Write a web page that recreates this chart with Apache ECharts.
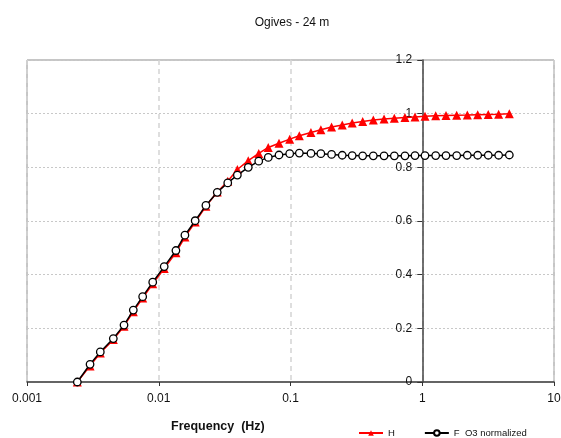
<!DOCTYPE html>
<html>
<head>
<meta charset="utf-8">
<script src="https://cdn.jsdelivr.net/npm/echarts@6/dist/echarts.min.js"></script>
<style>
html, body { margin: 0; padding: 0; background: #fff; }
#chart { width: 561px; height: 438px; }
</style>
</head>
<body>
<div id="chart"></div>
<script>
// Frequency bins (Hz), log-spaced
var frequency = [
  0.00241, 0.00301, 0.00360, 0.00452, 0.00545, 0.00641, 0.00755, 0.00900,
  0.0110, 0.0135, 0.0158, 0.0189, 0.0228, 0.0278, 0.0334, 0.0395,
  0.0478, 0.0574, 0.0678, 0.0818, 0.0986, 0.1167, 0.143, 0.170,
  0.205, 0.247, 0.294, 0.353, 0.425, 0.513, 0.614, 0.739,
  0.881, 1.049, 1.265, 1.514, 1.826, 2.198, 2.636, 3.17,
  3.80, 4.58
];

// Normalized ogive of sensible heat flux H
var ogiveH = [
  0, 0.06, 0.108, 0.158, 0.208, 0.262, 0.313, 0.366,
  0.423, 0.482, 0.54, 0.596, 0.655, 0.708, 0.748, 0.792,
  0.825, 0.852, 0.874, 0.89, 0.905, 0.918, 0.93, 0.94,
  0.95, 0.958, 0.965, 0.971, 0.976, 0.98, 0.983, 0.986,
  0.988, 0.99, 0.992, 0.993, 0.994, 0.995, 0.996, 0.997,
  0.998, 1.0
];

// Normalized ogive of ozone flux
var ogiveO3 = [
  0, 0.066, 0.112, 0.162, 0.212, 0.268, 0.318, 0.372,
  0.43, 0.49, 0.547, 0.601, 0.658, 0.707, 0.742, 0.771,
  0.80, 0.823, 0.837, 0.846, 0.851, 0.853, 0.852, 0.851,
  0.848, 0.845, 0.844, 0.843, 0.843, 0.843, 0.843, 0.843,
  0.844, 0.844, 0.844, 0.844, 0.844, 0.845, 0.845, 0.845,
  0.845, 0.846
];

var xTickLabels = ['0.001', '0.01', '0.1', '1', '10'];
var yTickLabels = ['0', '0.2', '0.4', '0.6', '0.8', '1', '1.2'];

function pairs(xs, ys) {
  return xs.map(function (x, i) { return [x, ys[i]]; });
}

var chart = echarts.init(document.getElementById('chart'), null, { renderer: 'canvas' });

var plotLeft = 27, plotRight = 554;
var decadePx = (plotRight - plotLeft) / 4;
// y axis crosses the x axis at 1 Hz (3 decades from 0.001)
var yAxisOffset = -3 * decadePx;
var font = 'Liberation Sans, Arial, sans-serif';

chart.setOption({
  backgroundColor: '#ffffff',
  animation: false,
  title: {
    text: 'Ogives - 24 m',
    left: 287,
    textAlign: 'center',
    top: 12,
    textStyle: { fontFamily: font, fontSize: 12, fontWeight: 'normal', color: '#111' }
  },
  grid: {
    left: plotLeft,
    right: 561 - plotRight,
    top: 60,
    bottom: 438 - 382,
    containLabel: false,
    outerBoundsMode: 'none',
    show: true,
    borderColor: '#8c8c8c',
    borderWidth: 1,
    backgroundColor: 'transparent'
  },
  legend: {
    left: 358,
    top: 428,
    padding: 0,
    itemWidth: 24,
    itemHeight: 7,
    itemGap: 29,
    textStyle: { fontFamily: font, fontSize: 9.5, color: '#111' },
    data: ['H', 'F  O3 normalized']
  },
  graphic: [{
    type: 'text',
    left: 171,
    top: 420,
    style: {
      text: 'Frequency  (Hz)',
      fontFamily: font,
      fontSize: 12.5,
      fontWeight: 'bold',
      fill: '#111'
    }
  }],
  xAxis: {
    type: 'log',
    logBase: 10,
    min: 0.001,
    max: 10,
    axisLine: { show: true, lineStyle: { color: '#444', width: 1.5 } },
    axisTick: { show: true, length: 4, lineStyle: { color: '#333' } },
    minorTick: { show: false },
    axisLabel: {
      fontFamily: font,
      fontSize: 12,
      color: '#111',
      margin: 11,
      showMinLabel: true,
      showMaxLabel: true,
      formatter: function (v) {
        var k = Math.round(Math.log10(v)) + 3;
        return xTickLabels[k] !== undefined ? xTickLabels[k] : '';
      }
    },
    splitLine: { show: true, lineStyle: { color: '#d4d4d4', type: [5, 4], width: 1.5 } }
  },
  yAxis: {
    type: 'value',
    min: 0,
    max: 1.2,
    interval: 0.2,
    position: 'left',
    offset: yAxisOffset,
    axisLine: { show: true, onZero: false, lineStyle: { color: '#444', width: 1.5 } },
    axisTick: { show: true, length: 5, lineStyle: { color: '#333' } },
    axisLabel: {
      fontFamily: font,
      fontSize: 12,
      color: '#111',
      margin: 10,
      formatter: function (v) {
        var k = Math.round(v / 0.2);
        return yTickLabels[k] !== undefined ? yTickLabels[k] : '';
      }
    },
    splitLine: { show: true, lineStyle: { color: '#c8c8c8', type: [2, 2], width: 1 } }
  },
  series: [
    {
      name: 'H',
      type: 'line',
      data: pairs(frequency, ogiveH),
      symbol: 'triangle',
      symbolSize: 9,
      lineStyle: { color: '#ff0000', width: 1.5 },
      itemStyle: { color: '#ff0000', borderColor: '#ff0000', borderWidth: 0 },
      z: 2
    },
    {
      name: 'F  O3 normalized',
      type: 'line',
      data: pairs(frequency, ogiveO3),
      symbol: 'circle',
      symbolSize: 7.5,
      showAllSymbol: true,
      lineStyle: { color: '#000000', width: 1.5 },
      itemStyle: { color: '#ffffff', borderColor: '#000000', borderWidth: 1.3 },
      z: 3
    }
  ]
});
</script>
</body>
</html>
